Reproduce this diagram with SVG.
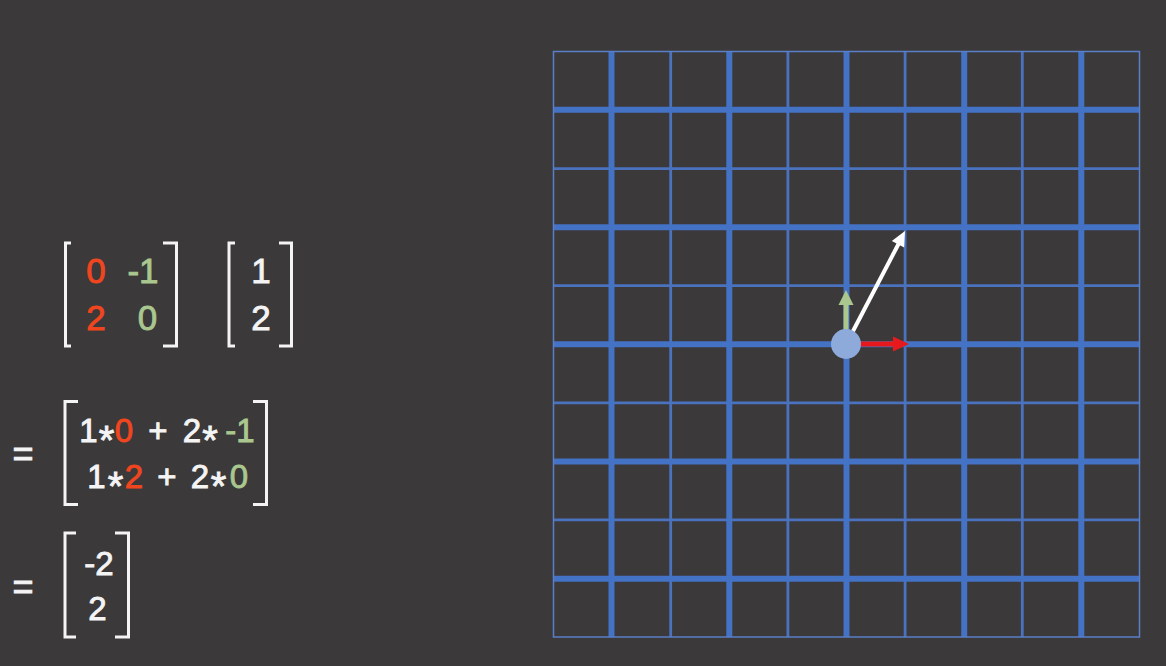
<svg xmlns="http://www.w3.org/2000/svg" width="1166" height="666" viewBox="0 0 1166 666">
<defs>
<style>
.bg{fill:#3b393a}
.t{font-family:"Liberation Sans",Arial,sans-serif;fill:#f4f4f4;stroke:#f4f4f4;stroke-width:0.9;text-anchor:middle}
.r{fill:#f0461f;stroke:#f0461f}
.g{fill:#a9c78e;stroke:#a9c78e}
.ast{font-size:40px}
.br{fill:none;stroke:#f4f4f4;stroke-width:3}
.thin{stroke:#4a72bf;stroke-width:2.8}
.thick{stroke:#4472c4;stroke-width:6}
.border{fill:none;stroke:#5a7fc8;stroke-width:1.5}
</style>
</defs>
<rect class="bg" x="0" y="0" width="1166" height="666"/>

<g id="matrix-a">
<path class="br" d="M71,243 H65.5 V346 H71"/>
<path class="br" d="M163,243 H176.5 V346 H163"/>
<text class="t" font-size="35"><tspan class="r" x="96" y="283">0</tspan><tspan class="g" x="143" y="283">-1</tspan><tspan class="r" x="96" y="330">2</tspan><tspan class="g" x="147.5" y="330">0</tspan></text>
</g>

<g id="vector-v">
<path class="br" d="M235,243 H229 V346 H235"/>
<path class="br" d="M279,243 H291.5 V346 H279"/>
<text class="t" font-size="35"><tspan x="261" y="283">1</tspan><tspan x="261" y="330">2</tspan></text>
</g>

<g id="product-expanded">
<text class="t" font-size="36" x="23" y="466">=</text>
<path class="br" d="M78,401.5 H65 V504.5 H78"/>
<path class="br" d="M253,401.5 H266.5 V504.5 H253"/>
<text class="t" font-size="33"><tspan x="88.5" y="442">1</tspan><tspan class="ast" x="106.5" y="454">*</tspan><tspan class="r" x="124" y="442">0</tspan><tspan x="158" y="442">+</tspan><tspan x="192" y="442">2</tspan><tspan class="ast" x="210" y="454">*</tspan><tspan class="g" x="240" y="442">-1</tspan></text>
<text class="t" font-size="33"><tspan x="96.5" y="488">1</tspan><tspan class="ast" x="115.5" y="500">*</tspan><tspan class="r" x="134" y="488">2</tspan><tspan x="167" y="488">+</tspan><tspan x="200" y="488">2</tspan><tspan class="ast" x="218.5" y="500">*</tspan><tspan class="g" x="239" y="488">0</tspan></text>
</g>

<g id="result">
<text class="t" font-size="36" x="23" y="599">=</text>
<path class="br" d="M76,533 H65 V637 H76"/>
<path class="br" d="M115,533 H128.5 V637 H115"/>
<text class="t" font-size="33"><tspan x="99" y="575">-2</tspan><tspan x="97.5" y="620">2</tspan></text>
</g>

<g id="grid">
<g class="thin">
<line x1="670.7" y1="51.5" x2="670.7" y2="637"/>
<line x1="787.9" y1="51.5" x2="787.9" y2="637"/>
<line x1="905.1" y1="51.5" x2="905.1" y2="637"/>
<line x1="1022.3" y1="51.5" x2="1022.3" y2="637"/>
<line x1="553.5" y1="168.6" x2="1139.5" y2="168.6"/>
<line x1="553.5" y1="285.7" x2="1139.5" y2="285.7"/>
<line x1="553.5" y1="402.8" x2="1139.5" y2="402.8"/>
<line x1="553.5" y1="519.9" x2="1139.5" y2="519.9"/>
</g>
<g class="thick">
<line x1="611.5" y1="51.5" x2="611.5" y2="637"/>
<line x1="729.3" y1="51.5" x2="729.3" y2="637"/>
<line x1="846.5" y1="51.5" x2="846.5" y2="637"/>
<line x1="964.2" y1="51.5" x2="964.2" y2="637"/>
<line x1="1081.3" y1="51.5" x2="1081.3" y2="637"/>
<line x1="553.5" y1="109.8" x2="1139.5" y2="109.8"/>
<line x1="553.5" y1="227.2" x2="1139.5" y2="227.2"/>
<line x1="553.5" y1="344.3" x2="1139.5" y2="344.3"/>
<line x1="553.5" y1="461.6" x2="1139.5" y2="461.6"/>
<line x1="553.5" y1="578.7" x2="1139.5" y2="578.7"/>
</g>
<rect class="border" x="553.5" y="51.5" width="586" height="585.5"/>
</g>

<g id="connectors">
<g id="basis-j">
<rect x="843.5" y="304" width="5" height="30" fill="#a9c78e"/>
<polygon points="838.5,305 853.5,305 846,290" fill="#a9c78e"/>
</g>
<g id="basis-i">
<rect x="858" y="341.5" width="36" height="5" fill="#e8191c"/>
<polygon points="893,336.5 893,351.5 909,344" fill="#e8191c"/>
</g>
<g id="result-vector">
<line x1="852" y1="333" x2="898.5" y2="244" stroke="#ffffff" stroke-width="4"/>
<polygon points="905,231 904.2,247.6 891.8,241" fill="#ffffff"/>
</g>
</g>

<g id="origin">
<circle cx="846" cy="344" r="15" fill="#8eaadb"/>
</g>
</svg>
